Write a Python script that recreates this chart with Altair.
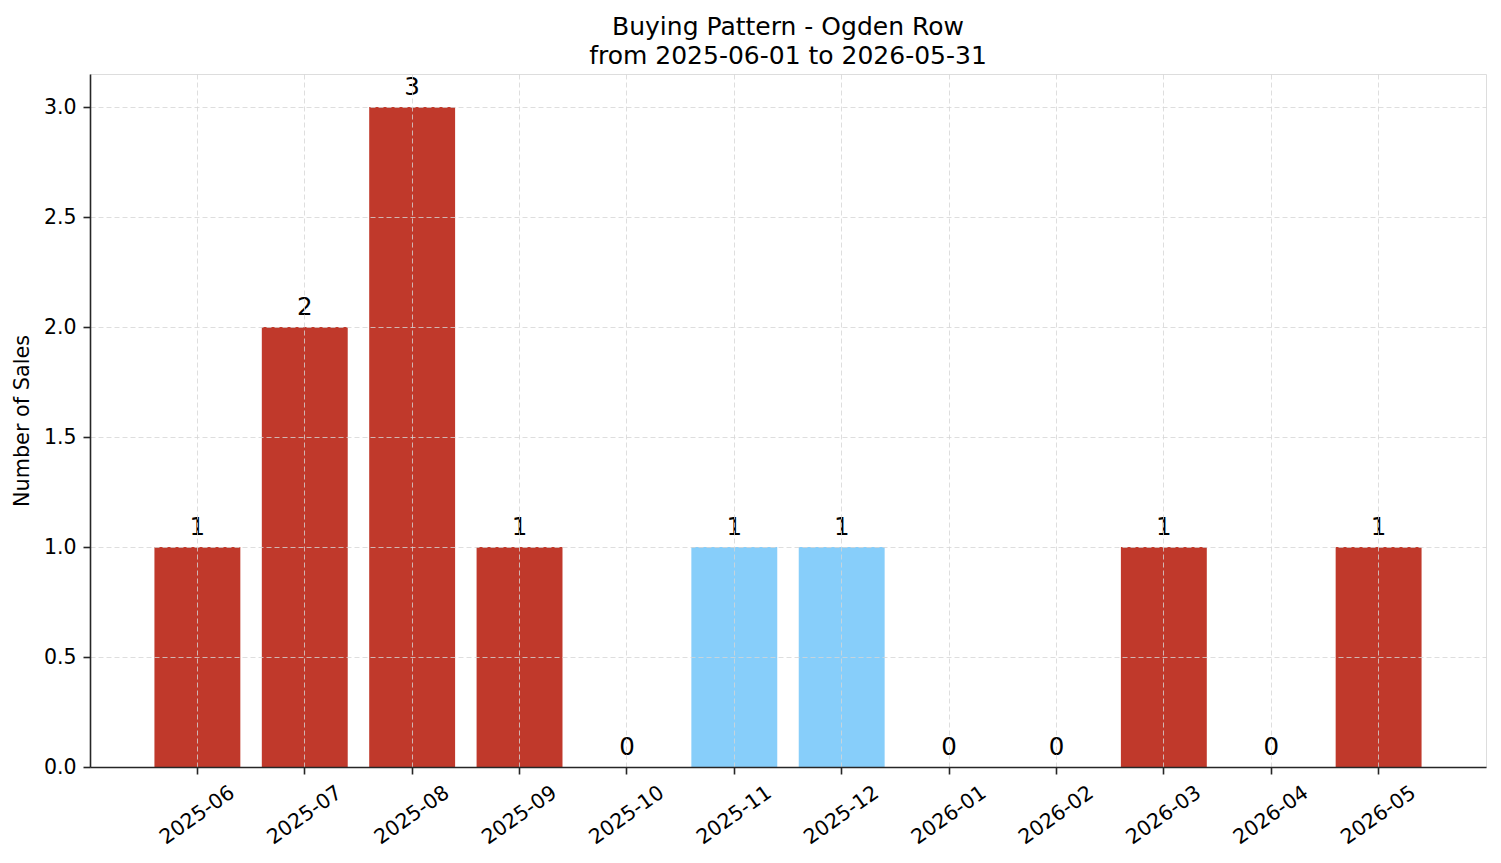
import altair as alt
import pandas as pd

months = ["2025-06", "2025-07", "2025-08", "2025-09", "2025-10", "2025-11",
          "2025-12", "2026-01", "2026-02", "2026-03", "2026-04", "2026-05"]
sales = [1, 2, 3, 1, 0, 1, 1, 0, 0, 1, 0, 1]
groups = ["normal", "normal", "normal", "normal", "normal", "highlight",
          "highlight", "normal", "normal", "normal", "normal", "normal"]

df = pd.DataFrame({"month": months, "sales": sales, "group": groups})

FONT = "DejaVu Sans"
AX = "#262626"

x_enc = alt.X("month:N", sort=months,
              scale=alt.Scale(paddingInner=0.2, paddingOuter=0.6),
              axis=alt.Axis(title=None, labelAngle=325, labelAlign="center",
                            labelBaseline="middle", labelPadding=41,
                            labelFontSize=20.5, labelFont=FONT, labelColor="black",
                            tickSize=7, tickWidth=1.6, tickColor=AX,
                            domainColor=AX, domainWidth=1.6,
                            grid=True, gridColor="#d5d5d5", gridWidth=0.8,
                            gridDash=[5, 3], bandPosition=0.5, zindex=1))

bars = alt.Chart(df).mark_bar().encode(
    x=x_enc,
    y=alt.Y("sales:Q", scale=alt.Scale(domain=[0, 3.15], nice=False),
            axis=alt.Axis(title="Number of Sales", titleFontSize=20.8,
                          titleFont=FONT, titleFontWeight="normal", titleColor="black",
                          titlePadding=11,
                          values=[0, 0.5, 1.0, 1.5, 2.0, 2.5, 3.0], format=".1f",
                          labelFontSize=20.5, labelFont=FONT, labelColor="black",
                          labelPadding=7, tickSize=7, tickWidth=1.6, tickColor=AX,
                          domainColor=AX, domainWidth=1.6,
                          grid=True, gridColor="#d5d5d5", gridWidth=0.8,
                          gridDash=[5, 3], zindex=1)),
    color=alt.Color("group:N",
                    scale=alt.Scale(domain=["normal", "highlight"],
                                    range=["#c0392b", "#87cefa"]),
                    legend=None),
)

labels = alt.Chart(df).mark_text(font=FONT, fontSize=24.5, color="black",
                                 baseline="alphabetic", dy=-12).encode(
    x=alt.X("month:N", sort=months),
    y=alt.Y("sales:Q"),
    text=alt.Text("sales:Q", format="d"),
)

chart = alt.layer(bars, labels).properties(
    width=1396, height=693,
    title=alt.TitleParams(text=["Buying Pattern - Ogden Row",
                                "from 2025-06-01 to 2026-05-31"],
                          fontSize=25, font=FONT, fontWeight="normal",
                          color="black", anchor="middle", lineHeight=29,
                          offset=5),
    autosize=alt.AutoSizeParams(type="none"),
    padding={"left": 90, "top": 74, "right": 15, "bottom": 96},
).configure_view(stroke=None).configure(background="white")

chart.save("out.html", embed_options={"renderer": "svg", "actions": False})
